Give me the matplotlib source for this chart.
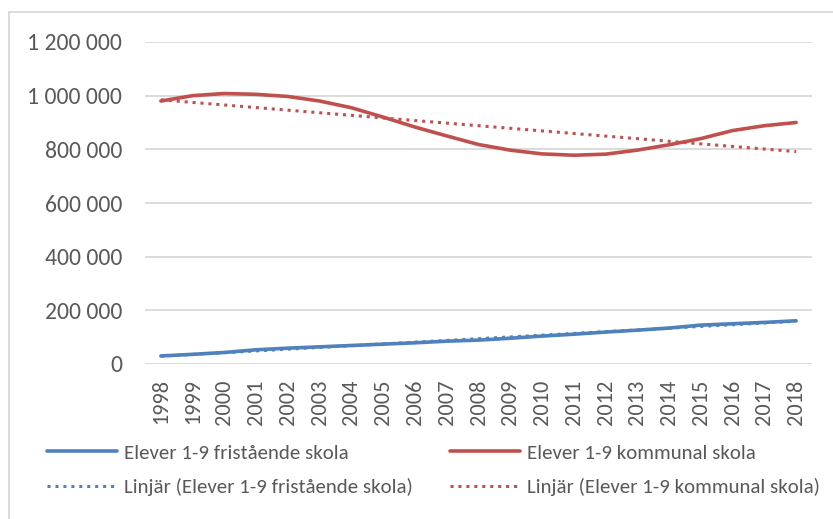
import numpy as np
import matplotlib.pyplot as plt
from matplotlib.patches import Rectangle

years = [str(y) for y in range(1998, 2019)]
fristaende = [30000, 36000, 43000, 53000, 59000, 64000, 69000, 74000, 79000, 85000, 89000,
              96000, 104000, 111000, 119000, 126000, 134000, 145000, 150000, 155000, 161000]
kommunal = [980000, 1000000, 1008000, 1005000, 997000, 980000, 955000, 920000, 883000, 850000, 818000,
            797000, 783000, 778000, 782000, 797000, 817000, 840000, 870000, 888000, 900000]

BLUE = '#4F81BD'
RED = '#C0504D'
TXT = '#595959'
DOTS = (0, (1.0, 1.6))

plt.rcParams['font.family'] = ['Carlito', 'DejaVu Sans']

W, H = 833, 519
fig = plt.figure(figsize=(W / 100, H / 100), dpi=100)
ax = fig.add_axes([145 / W, 1 - 364 / H, (812 - 145) / W, (364 - 42) / H])

# chart border (the chart area is cut off at the right and bottom)
fig.patches.append(Rectangle((9 / W, -0.1), 1.2, 1 - 12 / H + 0.1, transform=fig.transFigure,
                             fill=False, edgecolor='#D9D9D9', lw=1.3))

x = np.arange(len(years))
l1, = ax.plot(x, fristaende, color=BLUE, lw=2.6, solid_capstyle='round', zorder=3)
l2, = ax.plot(x, kommunal, color=RED, lw=2.6, solid_capstyle='round', zorder=3)

# linear trendlines like Excel's "Linjär"
trend = []
for vals, col in [(fristaende, BLUE), (kommunal, RED)]:
    k, m = np.polyfit(x, vals, 1)
    ln, = ax.plot(x, k * x + m, color=col, lw=2.2, linestyle=DOTS, dash_capstyle='butt', zorder=4)
    trend.append(ln)

ax.set_xlim(-0.5, len(years) - 0.5)
ax.set_ylim(0, 1200000)
ticks = list(range(0, 1200001, 200000))
ax.set_yticks(ticks)
ax.set_yticklabels([f'{v:,}'.replace(',', ' ') for v in ticks])
ax.set_xticks(x)
ax.set_xticklabels(years, rotation=90)
ax.tick_params(axis='both', length=0, colors=TXT)
ax.tick_params(axis='y', pad=16.5, labelsize=17)
ax.tick_params(axis='x', pad=11, labelsize=16)
ax.grid(axis='y', color='#D9D9D9', lw=1.3)
ax.set_axisbelow(True)
for s in ax.spines.values():
    s.set_visible(False)

leg_kw = dict(loc='upper left', frameon=False, fontsize=15, handlelength=3.36,
              handletextpad=0.35, labelspacing=0.78, borderpad=0, borderaxespad=0,
              labelcolor=TXT)
fig.legend([l1, trend[0]], ['Elever 1-9 fristående skola', 'Linjär (Elever 1-9 fristående skola)'],
           bbox_to_anchor=(47 / W, 1 - 444 / H), **leg_kw)
fig.legend([l2, trend[1]], ['Elever 1-9 kommunal skola', 'Linjär (Elever 1-9 kommunal skola)'],
           bbox_to_anchor=(450 / W, 1 - 444 / H), **leg_kw)

fig.savefig('out.png', dpi=100)
